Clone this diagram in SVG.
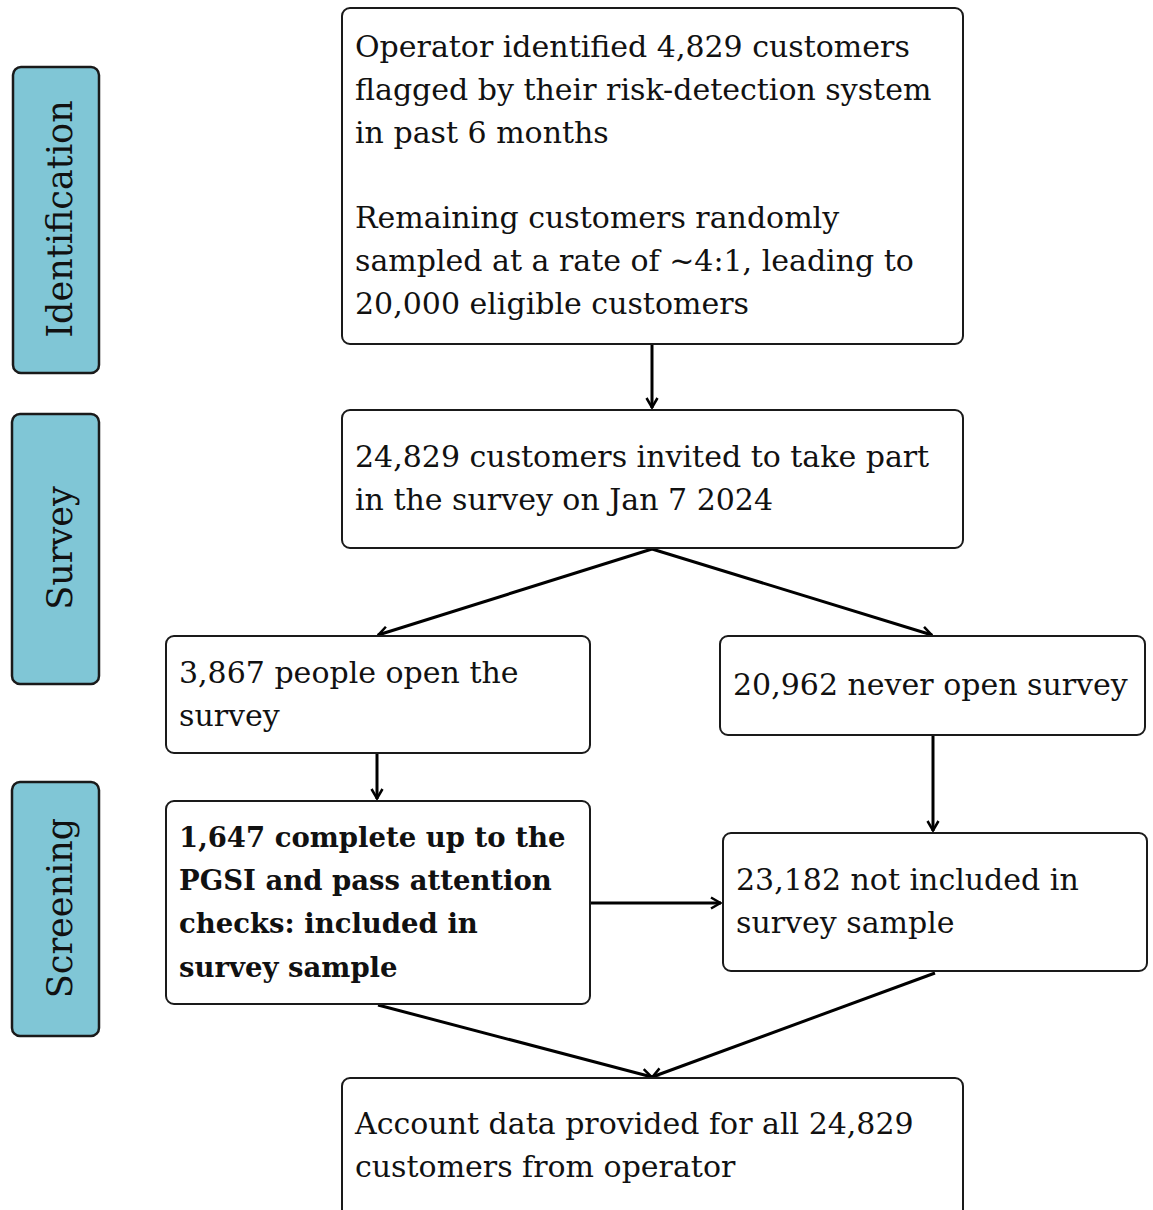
<svg xmlns="http://www.w3.org/2000/svg" width="1153" height="1210" viewBox="0 0 1153 1210">
<defs>
<style>
.box{fill:#ffffff;stroke:#1a1a1a;stroke-width:2}
.side{fill:#80c6d6;stroke:#1a1a1a;stroke-width:2.5}
.t{font-family:"DejaVu Serif",serif;font-size:30px;fill:#111}
.b{font-weight:bold;font-size:27.5px}
.st{font-family:"DejaVu Serif",serif;font-size:35px;fill:#111}
.c{stroke:#000;stroke-width:3;fill:none;marker-end:url(#ah)}
</style>
<marker id="ah" viewBox="0 0 14 14" refX="13" refY="7" markerWidth="14" markerHeight="14" markerUnits="userSpaceOnUse" orient="auto">
<path d="M3,1.5 L12.5,7 L3,12.5" fill="none" stroke="#000" stroke-width="2.5"/>
</marker>
</defs>
<rect width="1153" height="1210" fill="#fff"/>
<g id="lane-identification"><rect class="side" x="13" y="67" width="86" height="306" rx="8"/><text class="st" transform="translate(72,219) rotate(-90)" text-anchor="middle">Identification</text></g>
<g id="lane-survey"><rect class="side" x="12" y="414" width="87" height="270" rx="8"/><text class="st" transform="translate(72,548) rotate(-90)" text-anchor="middle">Survey</text></g>
<g id="lane-screening"><rect class="side" x="12" y="782" width="87" height="254" rx="8"/><text class="st" transform="translate(72,908) rotate(-90)" text-anchor="middle">Screening</text></g>
<g id="connectors">
<line class="c" x1="652" y1="345" x2="652" y2="408"/>
<line class="c" x1="652" y1="549" x2="378" y2="635"/>
<line class="c" x1="652" y1="549" x2="932" y2="635"/>
<line class="c" x1="377" y1="754" x2="377" y2="799"/>
<line class="c" x1="933" y1="736" x2="933" y2="831"/>
<line class="c" x1="591" y1="903" x2="721" y2="903"/>
<line class="c" x1="378" y1="1005" x2="652" y2="1077"/>
<line class="c" x1="935" y1="973" x2="652" y2="1077"/>
</g>
<g id="n1"><rect class="box" x="342" y="8" width="621" height="336" rx="8"/>
<text class="t" x="355" y="57">Operator identified 4,829 customers</text>
<text class="t" x="355" y="100">flagged by their risk-detection system</text>
<text class="t" x="355" y="143">in past 6 months</text>
<text class="t" x="355" y="228">Remaining customers randomly</text>
<text class="t" x="355" y="271">sampled at a rate of ~4:1, leading to</text>
<text class="t" x="355" y="314">20,000 eligible customers</text></g>
<g id="n2"><rect class="box" x="342" y="410" width="621" height="138" rx="8"/>
<text class="t" x="355" y="467">24,829 customers invited to take part</text>
<text class="t" x="355" y="510">in the survey on Jan 7 2024</text></g>
<g id="n3"><rect class="box" x="166" y="636" width="424" height="117" rx="8"/>
<text class="t" x="179" y="683">3,867 people open the</text>
<text class="t" x="179" y="726">survey</text></g>
<g id="n4"><rect class="box" x="720" y="636" width="425" height="99" rx="8"/>
<text class="t" x="733" y="695">20,962 never open survey</text></g>
<g id="n5"><rect class="box" x="166" y="801" width="424" height="203" rx="8"/>
<text class="t b" x="179" y="847">1,647 complete up to the</text>
<text class="t b" x="179" y="890">PGSI and pass attention</text>
<text class="t b" x="179" y="933">checks: included in</text>
<text class="t b" x="179" y="977">survey sample</text></g>
<g id="n6"><rect class="box" x="723" y="833" width="424" height="138" rx="8"/>
<text class="t" x="736" y="890">23,182 not included in</text>
<text class="t" x="736" y="933">survey sample</text></g>
<g id="n7"><rect class="box" x="342" y="1078" width="621" height="140" rx="8"/>
<text class="t" x="355" y="1134">Account data provided for all 24,829</text>
<text class="t" x="355" y="1177">customers from operator</text></g>
</svg>
